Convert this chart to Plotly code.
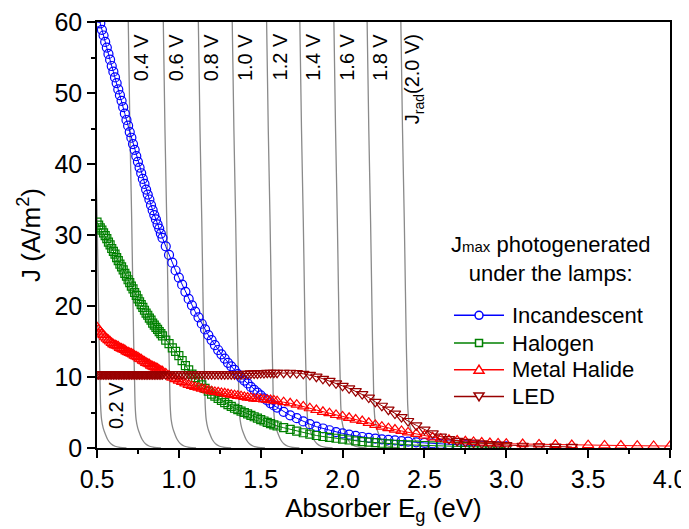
import plotly.graph_objects as go

# ---------------- data ----------------
# Absorber band gap sampling (eV)
EG = [
    0.50, 0.51, 0.52, 0.53, 0.54, 0.55, 0.56, 0.57, 0.58, 0.59,
    0.60, 0.61, 0.62, 0.63, 0.64, 0.65, 0.66, 0.67, 0.68, 0.69,
    0.70, 0.71, 0.72, 0.73, 0.74, 0.75, 0.76, 0.77, 0.78, 0.79,
    0.80, 0.81, 0.82, 0.83, 0.84, 0.85, 0.86, 0.87, 0.88, 0.89, 0.90,
    0.92, 0.94, 0.96, 0.98, 1.00, 1.02, 1.04, 1.06, 1.08, 1.10,
    1.12, 1.14, 1.16, 1.18, 1.20, 1.22, 1.24, 1.26, 1.28, 1.30,
    1.32, 1.34, 1.36, 1.38, 1.40, 1.42, 1.44, 1.46, 1.48, 1.50,
    1.52, 1.54, 1.56, 1.58, 1.60,
    1.64, 1.68, 1.72, 1.76, 1.80, 1.84, 1.88, 1.92, 1.96, 2.00,
    2.04, 2.08, 2.12, 2.16, 2.20, 2.24, 2.28, 2.32, 2.36, 2.40,
    2.45, 2.50, 2.55, 2.60, 2.65, 2.70, 2.75, 2.80, 2.85, 2.90, 2.95, 3.00,
    3.10, 3.20, 3.30, 3.40, 3.50, 3.60, 3.70, 3.80, 3.90, 4.00,
]

INCANDESCENT = [
    61.5, 60.6, 59.8, 58.9, 58.1, 57.2, 56.4, 55.5, 54.7, 53.8,
    53.0, 52.2, 51.4, 50.5, 49.7, 48.9, 48.0, 47.1, 46.2, 45.4,
    44.5, 43.7, 42.8, 42.0, 41.1, 40.3, 39.5, 38.7, 37.9, 37.2,
    36.4, 35.7, 35.0, 34.2, 33.5, 32.8, 32.2, 31.5, 30.9, 30.2, 29.6,
    28.4, 27.2, 26.1, 25.0, 24.0, 23.0, 22.0, 21.0, 20.1, 19.2,
    18.4, 17.5, 16.7, 15.9, 15.2, 14.5, 13.8, 13.2, 12.6, 12.0,
    11.5, 11.0, 10.4, 9.9, 9.5, 9.1, 8.6, 8.2, 7.8, 7.4,
    7.0, 6.7, 6.3, 6.0, 5.7,
    5.1, 4.6, 4.2, 3.75, 3.35, 3.0, 2.75, 2.5, 2.25, 2.05,
    1.87, 1.7, 1.55, 1.43, 1.32, 1.22, 1.14, 1.06, 0.98, 0.9,
    0.8, 0.72, 0.64, 0.57, 0.51, 0.45, 0.4, 0.36, 0.32, 0.28, 0.25, 0.22,
]

HALOGEN = [
    31.8, 31.4, 31.0, 30.7, 30.3, 29.9, 29.5, 29.0, 28.6, 28.1,
    27.7, 27.3, 26.8, 26.4, 25.9, 25.5, 25.1, 24.6, 24.2, 23.7,
    23.3, 22.8, 22.4, 21.9, 21.5, 21.0, 20.6, 20.2, 19.8, 19.4,
    19.0, 18.7, 18.3, 18.0, 17.6, 17.3, 17.0, 16.7, 16.4, 16.1, 15.8,
    15.2, 14.7, 14.1, 13.6, 13.0, 12.3, 11.6, 11.0, 10.4, 9.9,
    9.4, 8.9, 8.4, 8.0, 7.6, 7.3, 7.0, 6.7, 6.4, 6.1,
    5.85, 5.6, 5.4, 5.2, 5.0, 4.8, 4.6, 4.4, 4.2, 4.0,
    3.8, 3.6, 3.42, 3.26, 3.1,
    2.86, 2.62, 2.38, 2.15, 1.95, 1.76, 1.62, 1.49, 1.37, 1.25,
    1.13, 1.01, 0.91, 0.83, 0.75, 0.67, 0.59, 0.53, 0.49, 0.45,
    0.40, 0.35, 0.31, 0.28, 0.25, 0.22, 0.2, 0.17, 0.15, 0.13, 0.11, 0.1,
]

METAL_HALIDE = [
    17.0, 16.7, 16.4, 16.1, 15.9, 15.6, 15.4, 15.2, 15.0, 14.8,
    14.6, 14.5, 14.4, 14.3, 14.1, 14.0, 13.9, 13.8, 13.6, 13.5,
    13.4, 13.3, 13.2, 13.0, 12.9, 12.8, 12.6, 12.5, 12.3, 12.2,
    12.0, 11.9, 11.8, 11.6, 11.5, 11.4, 11.3, 11.2, 11.0, 10.9, 10.8,
    10.5, 10.2, 9.9, 9.7, 9.5, 9.3, 9.1, 8.9, 8.75, 8.6,
    8.5, 8.35, 8.25, 8.1, 8.0, 7.9, 7.85, 7.75, 7.7, 7.6,
    7.5, 7.45, 7.35, 7.3, 7.2, 7.1, 7.05, 6.95, 6.9, 6.9,
    6.85, 6.8, 6.75, 6.7, 6.6,
    6.45, 6.3, 6.1, 5.85, 5.6, 5.35, 5.1, 4.9, 4.65, 4.45,
    4.25, 4.0, 3.8, 3.55, 3.25, 3.0, 2.8, 2.6, 2.4, 2.2,
    2.0, 1.75, 1.5, 1.3, 1.15, 1.05, 0.95, 0.85, 0.77, 0.7, 0.65, 0.6,
    0.55, 0.5, 0.45, 0.42, 0.4, 0.37, 0.35, 0.32, 0.3, 0.28,
]

LED = [
    10.4, 10.4, 10.4, 10.4, 10.4, 10.4, 10.4, 10.4, 10.4, 10.4,
    10.4, 10.4, 10.4, 10.4, 10.4, 10.4, 10.4, 10.4, 10.4, 10.4,
    10.4, 10.4, 10.4, 10.4, 10.4, 10.4, 10.4, 10.4, 10.4, 10.4,
    10.4, 10.4, 10.4, 10.4, 10.4, 10.4, 10.4, 10.4, 10.4, 10.4, 10.4,
    10.4, 10.4, 10.4, 10.4, 10.4, 10.4, 10.4, 10.4, 10.4, 10.4,
    10.4, 10.4, 10.4, 10.4, 10.4, 10.4, 10.4, 10.4, 10.4, 10.4,
    10.4, 10.4, 10.4, 10.4, 10.45, 10.45, 10.5, 10.5, 10.5, 10.55,
    10.55, 10.6, 10.6, 10.6, 10.6,
    10.6, 10.6, 10.55, 10.45, 10.3, 10.05, 9.75, 9.45, 9.1, 8.75,
    8.4, 8.0, 7.6, 7.1, 6.5, 5.95, 5.4, 4.85, 4.35, 3.8,
    3.2, 2.6, 2.05, 1.6, 1.25, 1.0, 0.85, 0.75, 0.65, 0.55, 0.48, 0.42,
    0.32, 0.25, 0.2, 0.15,
]

# Radiative-limit current curves J_rad at fixed voltage: shared J levels (A/m^2)
JRAD_J = [60, 45, 32, 22, 15, 10, 6, 4, 2.8, 2.0, 1.2, 0.6, 0.25, 0.08, 0.01]
# Band gap (eV) where each constant-voltage curve reaches those J levels
JRAD_02 = [0.480, 0.490, 0.501, 0.508, 0.513, 0.518, 0.522, 0.528, 0.538, 0.550, 0.565, 0.585, 0.610, 0.640, 0.680]
JRAD_04 = [0.691, 0.701, 0.712, 0.719, 0.724, 0.729, 0.733, 0.739, 0.749, 0.761, 0.776, 0.796, 0.821, 0.851, 0.891]
JRAD_06 = [0.905, 0.915, 0.926, 0.933, 0.938, 0.943, 0.947, 0.953, 0.963, 0.975, 0.990, 1.010, 1.035, 1.065, 1.105]
JRAD_08 = [1.119, 1.129, 1.140, 1.147, 1.152, 1.157, 1.161, 1.167, 1.177, 1.189, 1.204, 1.224, 1.249, 1.279, 1.319]
JRAD_10 = [1.326, 1.336, 1.347, 1.354, 1.359, 1.364, 1.368, 1.374, 1.384, 1.396, 1.411, 1.431, 1.456, 1.486, 1.526]
JRAD_12 = [1.536, 1.546, 1.557, 1.564, 1.569, 1.574, 1.578, 1.584, 1.594, 1.606, 1.621, 1.641, 1.666, 1.696, 1.736]
JRAD_14 = [1.739, 1.749, 1.760, 1.767, 1.772, 1.777, 1.781, 1.787, 1.797, 1.809, 1.824, 1.844, 1.869, 1.899, 1.939]
JRAD_16 = [1.947, 1.957, 1.968, 1.975, 1.980, 1.985, 1.989, 1.995, 2.005, 2.017, 2.032, 2.052, 2.077, 2.107, 2.147]
JRAD_18 = [2.150, 2.160, 2.171, 2.178, 2.183, 2.188, 2.192, 2.198, 2.208, 2.220, 2.235, 2.255, 2.280, 2.310, 2.350]
JRAD_20 = [2.356, 2.366, 2.377, 2.384, 2.389, 2.394, 2.398, 2.404, 2.414, 2.426, 2.441, 2.461, 2.486, 2.516, 2.556]

JRAD_CURVES = [JRAD_02, JRAD_04, JRAD_06, JRAD_08, JRAD_10,
               JRAD_12, JRAD_14, JRAD_16, JRAD_18, JRAD_20]
JRAD_LABELS = ["0.2 V", "0.4 V", "0.6 V", "0.8 V", "1.0 V",
               "1.2 V", "1.4 V", "1.6 V", "1.8 V", "J<sub>rad</sub>(2.0 V)"]

SERIES_NAMES = ["Incandescent", "Halogen", "Metal Halide", "LED"]

# ---------------- styling ----------------
FONT = "Liberation Sans, Arial, sans-serif"
GRAY = "#8a8a8a"
STYLES = [
    dict(color="#0000ff", symbol="circle-open", size=9),
    dict(color="#008000", symbol="square-open", size=8),
    dict(color="#ff0000", symbol="triangle-up-open", size=10),
    dict(color="#990000", symbol="triangle-down-open", size=10),
]

fig = go.Figure()

for eg in JRAD_CURVES:
    fig.add_trace(go.Scatter(
        x=eg, y=JRAD_J, mode="lines",
        line=dict(color=GRAY, width=1.3, shape="spline", smoothing=0.8),
        showlegend=False, hoverinfo="skip"))

for name, vals, st in zip(SERIES_NAMES, [INCANDESCENT, HALOGEN, METAL_HALIDE, LED], STYLES):
    fig.add_trace(go.Scatter(
        x=EG[:len(vals)], y=vals, mode="lines+markers", name=name,
        line=dict(color=st["color"], width=1),
        marker=dict(symbol=st["symbol"], size=st["size"], color=st["color"],
                    line=dict(color=st["color"], width=1.2)),
        showlegend=False,
    ))

# Voltage labels beside the J_rad curves (rotated)
for i, (eg, lab) in enumerate(zip(JRAD_CURVES, JRAD_LABELS)):
    if i == 0:
        fig.add_annotation(x=eg[0] + 0.14, y=2.4, text=lab, textangle=-90,
                           showarrow=False, xanchor="center", yanchor="bottom",
                           font=dict(family=FONT, size=20, color="black"))
    else:
        fig.add_annotation(x=eg[0] + 0.082, y=58.6, text=lab, textangle=-90,
                           showarrow=False, xanchor="center", yanchor="top",
                           font=dict(family=FONT, size=20, color="black"))

# Legend heading
fig.add_annotation(
    xref="paper", yref="paper", x=0.792, y=0.444,
    text="J<span style='font-size:15px'>max</span> photogenerated<br>under the lamps:",
    showarrow=False, xanchor="center", yanchor="middle", align="center",
    font=dict(family=FONT, size=22, color="black"))

# Hand-built legend (line + symbol + label), positions in plot fractions
LEG_Y = [0.3114, 0.2463, 0.1838, 0.1210]
LEG_X0, LEG_X1, LEG_XM, LEG_XT = 0.623, 0.7103, 0.6667, 0.7208
GLYPHS = [
    dict(type="circle", x0=-4, x1=4, y0=-4, y1=4),
    dict(type="rect", x0=-3.5, x1=3.5, y0=-3.5, y1=3.5),
    dict(type="path", path="M-5,-3.5 L5,-3.5 L0,4.5 Z"),
    dict(type="path", path="M-5,3.5 L5,3.5 L0,-4.5 Z"),
]
for name, st, yy, gl in zip(SERIES_NAMES, STYLES, LEG_Y, GLYPHS):
    fig.add_shape(type="line", xref="paper", yref="paper",
                  x0=LEG_X0, x1=LEG_X1, y0=yy, y1=yy,
                  line=dict(color=st["color"], width=1.5))
    fig.add_shape(xref="paper", yref="paper", xsizemode="pixel", ysizemode="pixel",
                  xanchor=LEG_XM, yanchor=yy, fillcolor="white",
                  line=dict(color=st["color"], width=1.5), **gl)
    fig.add_annotation(xref="paper", yref="paper", x=LEG_XT, y=yy, text=name,
                       showarrow=False, xanchor="left", yanchor="middle",
                       font=dict(family=FONT, size=22, color="black"))

axis_common = dict(
    showgrid=False, zeroline=False, showline=True, linecolor="black", linewidth=1.5,
    mirror=True, ticks="outside", ticklen=8, tickwidth=1.5, tickcolor="black",
    tickfont=dict(family=FONT, size=25, color="black"), automargin=False,
    ticklabeloverflow="allow",
)

fig.update_layout(
    width=681, height=521,
    margin=dict(l=89, r=19, t=14, b=81),
    paper_bgcolor="white", plot_bgcolor="white",
    font=dict(family=FONT, size=22, color="black"),
    showlegend=False,
    xaxis=dict(range=[0.5, 4.0], tick0=0.5, dtick=0.5, tickformat=".1f",
               minor=dict(ticks="outside", ticklen=4, dtick=0.25, tickcolor="black", tickwidth=1.5),
               title=dict(text="Absorber E<sub>g</sub> (eV)", font=dict(family=FONT, size=26), standoff=6),
               **axis_common),
    yaxis=dict(range=[0, 60], tick0=0, dtick=10,
               minor=dict(ticks="outside", ticklen=4, dtick=5, tickcolor="black", tickwidth=1.5),
               title=dict(text="J (A/m<sup>2</sup>)", font=dict(family=FONT, size=26), standoff=6),
               **axis_common),
)

fig.write_html("out.html")
